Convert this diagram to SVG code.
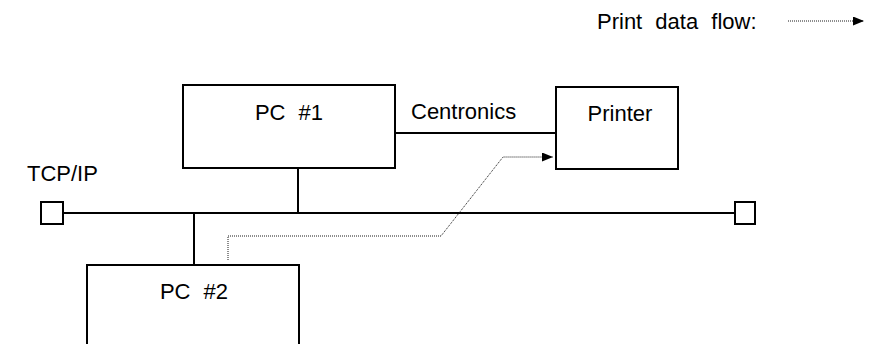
<svg xmlns="http://www.w3.org/2000/svg" width="869" height="344" viewBox="0 0 869 344">
<style>
.box{fill:#fff;stroke:#000;stroke-width:2}
.ln{fill:none;stroke:#000;stroke-width:2}
.dot{fill:none;stroke:#1a1a1a;stroke-width:1;stroke-dasharray:1 1}
text{font-family:"Liberation Sans",Arial,sans-serif;font-size:22px;fill:#000;word-spacing:7px}
</style>
<defs>
<marker id="ah" markerWidth="11" markerHeight="9" refX="11" refY="4.5" orient="auto" markerUnits="userSpaceOnUse">
<path d="M0,0 L11,4.5 L0,9 Z" fill="#000"/>
</marker>
</defs>
<rect width="869" height="344" fill="#fff"/>
<g id="legend">
<text x="597" y="29">Print data flow:</text>
<line class="dot" x1="788" y1="21" x2="864" y2="21" marker-end="url(#ah)"/>
</g>
<g id="connectors">
<line class="ln" x1="63" y1="213" x2="735" y2="213"/>
<line class="ln" x1="298" y1="168" x2="298" y2="213"/>
<line class="ln" x1="194" y1="213" x2="194" y2="265"/>
<line class="ln" x1="395" y1="133" x2="556" y2="133"/>
<polyline class="dot" points="228,260 228,236 441,236 503,157 553,157" marker-end="url(#ah)"/>
</g>
<g id="pc1">
<rect class="box" x="183" y="85" width="212" height="83"/>
<text x="289" y="120" text-anchor="middle">PC #1</text>
</g>
<g id="centronics">
<text x="411" y="119">Centronics</text>
</g>
<g id="printer">
<rect class="box" x="556" y="87" width="122" height="82"/>
<text x="620" y="121" text-anchor="middle">Printer</text>
</g>
<g id="tcpip">
<text x="27" y="181">TCP/IP</text>
</g>
<g id="term-left">
<rect class="box" x="41" y="202" width="22" height="22"/>
</g>
<g id="term-right">
<rect class="box" x="735" y="202" width="20" height="22"/>
</g>
<g id="pc2">
<rect class="box" x="87" y="265" width="212" height="90"/>
<text x="194" y="299" text-anchor="middle">PC #2</text>
</g>
</svg>
